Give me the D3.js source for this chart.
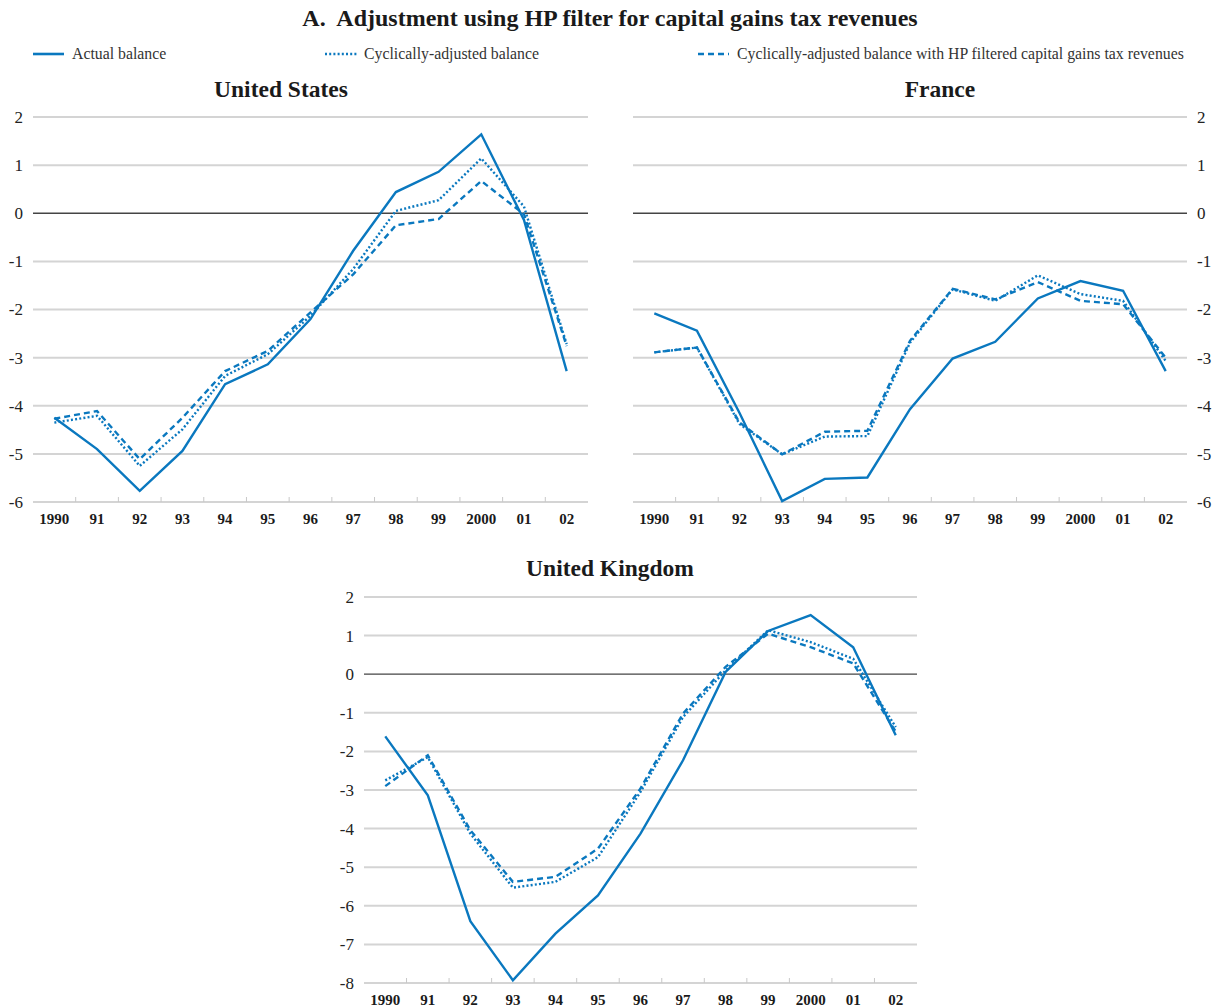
<!DOCTYPE html>
<html>
<head>
<meta charset="utf-8">
<script src="https://cdn.jsdelivr.net/npm/d3@7"></script>
<style>
    body { margin: 0; background: #fff; }
    svg { display: block; }
</style>
</head>
<body>
<div id="content"></div>
<script>
// ******* DATA *******
const years = ["1990", "91", "92", "93", "94", "95", "96", "97", "98", "99", "2000", "01", "02"];

const usActual   = [-4.25, -4.90, -5.77, -4.94, -3.55, -3.14, -2.20, -0.78, 0.44, 0.86, 1.64, -0.14, -3.28];
const usCyclical = [-4.35, -4.21, -5.25, -4.49, -3.38, -2.93, -2.13, -1.16, 0.05, 0.27, 1.14, 0.14, -2.72];
const usHP       = [-4.27, -4.11, -5.11, -4.25, -3.28, -2.86, -2.06, -1.27, -0.25, -0.12, 0.67, -0.02, -2.76];

const frActual   = [-2.08, -2.44, -4.15, -5.98, -5.52, -5.49, -4.07, -3.02, -2.67, -1.77, -1.41, -1.61, -3.28];
const frCyclical = [-2.89, -2.79, -4.38, -5.01, -4.64, -4.63, -2.69, -1.58, -1.82, -1.29, -1.68, -1.82, -3.07];
const frHP       = [-2.89, -2.79, -4.35, -5.01, -4.54, -4.52, -2.65, -1.57, -1.79, -1.43, -1.82, -1.89, -3.00];

const ukActual   = [-1.61, -3.14, -6.40, -7.93, -6.72, -5.73, -4.13, -2.23, 0.06, 1.12, 1.53, 0.70, -1.58];
const ukCyclical = [-2.75, -2.15, -4.13, -5.53, -5.38, -4.74, -3.05, -1.11, 0.10, 1.14, 0.83, 0.40, -1.37];
const ukHP       = [-2.90, -2.10, -4.04, -5.38, -5.25, -4.52, -2.96, -1.02, 0.19, 1.05, 0.70, 0.28, -1.49];

const seriesNames = [
    "Actual balance",
    "Cyclically-adjusted balance",
    "Cyclically-adjusted balance with HP filtered capital gains tax revenues"
];
const usTicks = [2, 1, 0, -1, -2, -3, -4, -5, -6];
const ukTicks = [2, 1, 0, -1, -2, -3, -4, -5, -6, -7, -8];

// ******* STYLE *******
const FONT = "'Liberation Serif', 'Times New Roman', serif";
const LINE_COLOR = "#0a78bf";
const GRID_COLOR = "#d4d4d4";
const dashes = [null, "2,2.2", "6,4"];

const svg = d3.select("#content").append("svg")
    .attr("width", 1219)
    .attr("height", 1007)
    .attr("font-family", FONT)
    .style("font-family", FONT);

// main title
svg.append("text")
    .attr("x", 610).attr("y", 26)
    .attr("text-anchor", "middle")
    .attr("fill", "#1a1a1a")
    .style("font-size", "24px").style("font-weight", "bold")
    .text("A.  Adjustment using HP filter for capital gains tax revenues")
    .attr("xml:space", "preserve")
    .style("white-space", "pre");

// legend
const legendPos = [{ x1: 33, x2: 64, tx: 72 }, { x1: 325, x2: 357, tx: 364 }, { x1: 698, x2: 729, tx: 737 }];
seriesNames.forEach((name, i) => {
    const p = legendPos[i];
    svg.append("line")
        .attr("x1", p.x1).attr("x2", p.x2)
        .attr("y1", 54).attr("y2", 54)
        .attr("stroke", LINE_COLOR).attr("stroke-width", 2.6)
        .attr("stroke-dasharray", dashes[i]);
    svg.append("text")
        .attr("x", p.tx).attr("y", 59)
        .attr("fill", "#333")
        .style("font-size", "15.8px")
        .text(name);
});

// ******* PANELS *******
const panels = [
    { title: "United States", x0: 33, x1: 588, top: 117, bottom: 502, ticks: usTicks, side: "left",
      series: [usActual, usCyclical, usHP], titleX: 281, titleY: 97 },
    { title: "France", x0: 633, x1: 1187, top: 117, bottom: 502, ticks: usTicks, side: "right",
      series: [frActual, frCyclical, frHP], titleX: 940, titleY: 97 },
    { title: "United Kingdom", x0: 364, x1: 917, top: 597, bottom: 983, ticks: ukTicks, side: "left",
      series: [ukActual, ukCyclical, ukHP], titleX: 610, titleY: 576 }
];

panels.forEach(p => {
    const g = svg.append("g");

    const x = d3.scaleBand().domain(years).range([p.x0, p.x1]);
    const y = d3.scaleLinear().domain(d3.extent(p.ticks)).range([p.bottom, p.top]);

    g.append("text")
        .attr("x", p.titleX).attr("y", p.titleY)
        .attr("text-anchor", "middle")
        .attr("fill", "#1a1a1a")
        .style("font-size", "23.5px").style("font-weight", "bold")
        .text(p.title);

    // gridlines
    g.selectAll(".grid").data(p.ticks).join("line")
        .attr("x1", p.x0).attr("x2", p.x1)
        .attr("y1", d => y(d)).attr("y2", d => y(d))
        .attr("stroke", d => d === 0 ? "#444" : GRID_COLOR)
        .attr("stroke-width", d => d === 0 ? 1.3 : 2);

    // y labels
    g.selectAll(".ylab").data(p.ticks).join("text")
        .attr("x", p.side === "left" ? p.x0 - 10 : p.x1 + 10)
        .attr("y", d => y(d))
        .attr("dy", "0.35em")
        .attr("text-anchor", p.side === "left" ? "end" : "start")
        .attr("fill", "#222")
        .style("font-size", "17px")
        .text(d => d);

    // x axis ticks between categories
    const bounds = years.slice(1).map(yr => x(yr));
    g.selectAll(".xtick").data(bounds).join("line")
        .attr("x1", d => d).attr("x2", d => d)
        .attr("y1", p.bottom).attr("y2", p.bottom - 5)
        .attr("stroke", "#c8c8c8").attr("stroke-width", 1);

    g.selectAll(".xlab").data(years).join("text")
        .attr("x", d => x(d) + x.bandwidth() / 2)
        .attr("y", p.bottom + 22)
        .attr("text-anchor", "middle")
        .attr("fill", "#1a1a1a")
        .style("font-size", "15px").style("font-weight", "bold")
        .text(d => d);

    // lines
    const line = d3.line()
        .x((d, i) => x(years[i]) + x.bandwidth() / 2)
        .y(d => y(d));

    p.series.forEach((vals, i) => {
        g.append("path")
            .datum(vals)
            .attr("d", line)
            .attr("fill", "none")
            .attr("stroke", LINE_COLOR)
            .attr("stroke-width", 2.4)
            .attr("stroke-dasharray", dashes[i]);
    });
});
</script>
</body>
</html>
